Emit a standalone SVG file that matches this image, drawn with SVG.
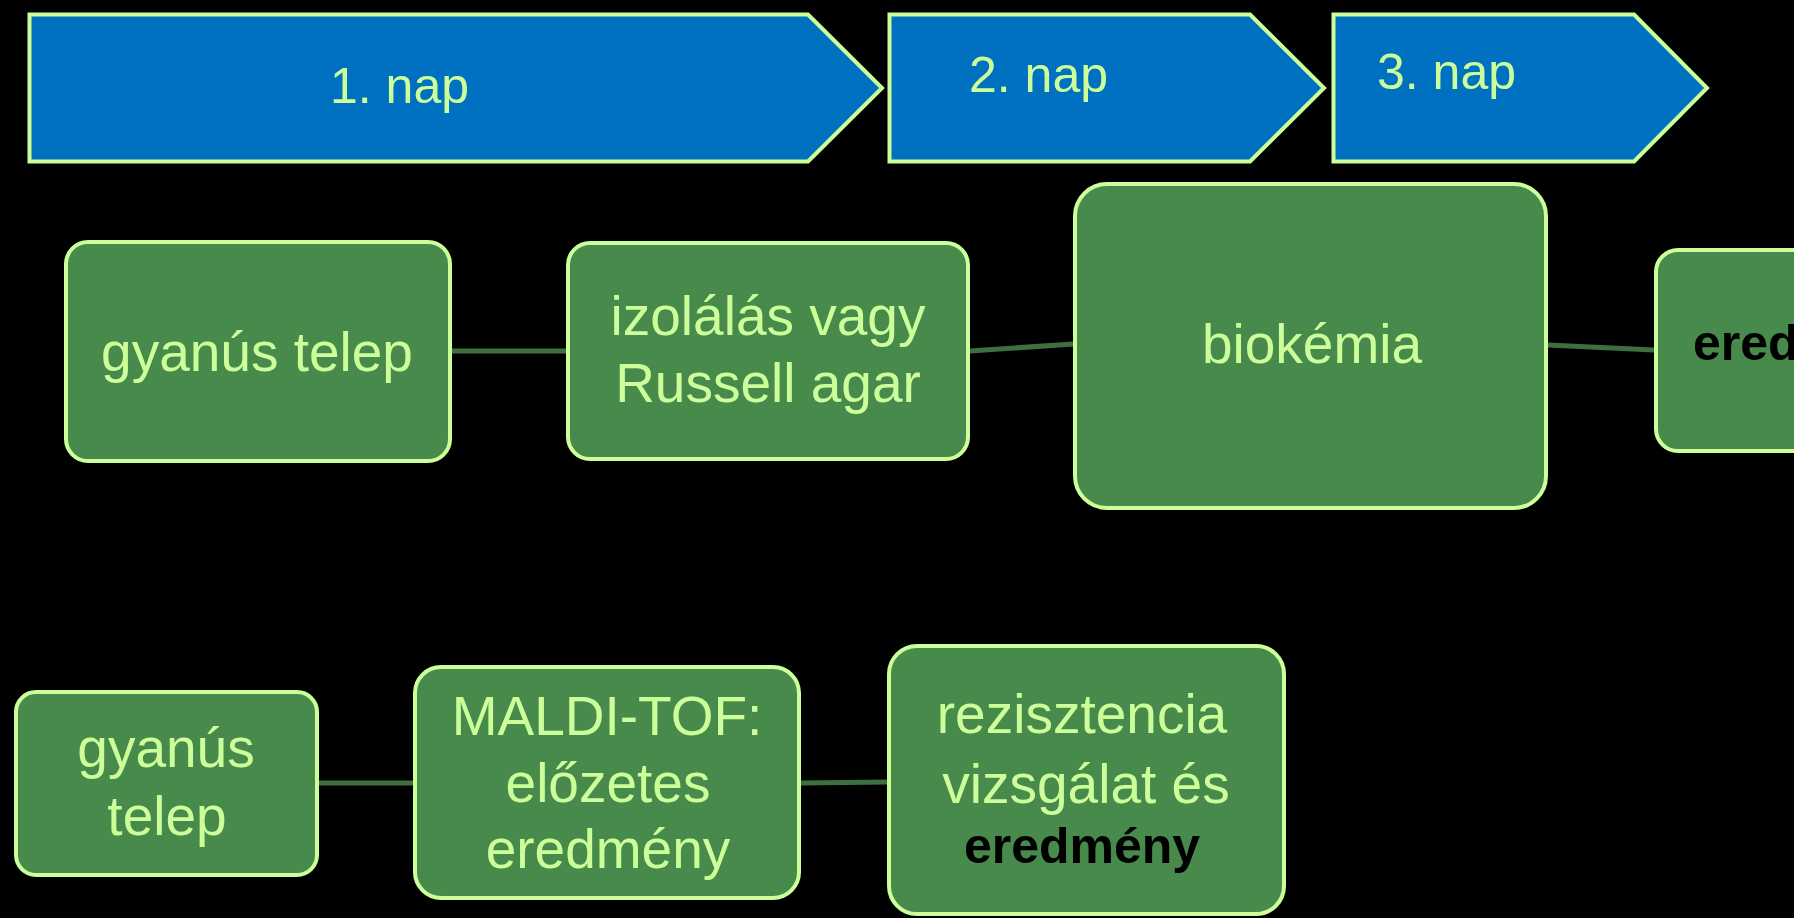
<svg xmlns="http://www.w3.org/2000/svg" width="1794" height="918" viewBox="0 0 1794 918">
<style>
.chev{fill:#0070C0;stroke:#CCFF99;stroke-width:4;stroke-linejoin:miter}
.box{fill:#478A4B;stroke:#CCFF99;stroke-width:4}
.t{font-family:"Liberation Sans",Arial,sans-serif;font-size:55px;fill:#CCFF99}
.tc{font-family:"Liberation Sans",Arial,sans-serif;font-size:50px;fill:#CCFF99}
.tb{font-family:"Liberation Sans",Arial,sans-serif;font-size:50px;font-weight:bold;fill:#000000}
.con{stroke:#3E703F;stroke-width:5;fill:none}
</style>
<rect x="0" y="0" width="1794" height="918" fill="#000000"/>
<g id="connectors">
<line class="con" x1="452" y1="351" x2="566" y2="351"/>
<line class="con" x1="970" y1="351" x2="1073" y2="344"/>
<line class="con" x1="1548" y1="345" x2="1654" y2="350"/>
<line class="con" x1="319" y1="783" x2="413" y2="783"/>
<line class="con" x1="801" y1="783" x2="887" y2="782"/>
</g>
<g id="day1">
<path class="chev" d="M29.5,14.5 H808 L882,88 L808,161.5 H29.5 Z"/>
<text class="tc" x="330" y="103">1. nap</text>
</g>
<g id="day2">
<path class="chev" d="M889.5,14.5 H1250 L1324,88 L1250,161.5 H889.5 Z"/>
<text class="tc" x="969" y="92">2. nap</text>
</g>
<g id="day3">
<path class="chev" d="M1333.5,14.5 H1634 L1707,88 L1634,161.5 H1333.5 Z"/>
<text class="tc" x="1377" y="89">3. nap</text>
</g>
<g id="top-gyanus">
<rect class="box" x="66" y="242" width="384" height="219" rx="22"/>
<text class="t" x="257" y="371" text-anchor="middle">gyanús telep</text>
</g>
<g id="top-izolalas">
<rect class="box" x="568" y="243" width="400" height="216" rx="22"/>
<text class="t" x="768" y="335" text-anchor="middle">izolálás vagy</text>
<text class="t" x="768" y="402" text-anchor="middle">Russell agar</text>
</g>
<g id="top-biokemia">
<rect class="box" x="1075" y="184" width="471" height="324" rx="32"/>
<text class="t" x="1312" y="363" text-anchor="middle">biokémia</text>
</g>
<g id="top-eredmeny">
<rect class="box" x="1656" y="250" width="200" height="201" rx="22"/>
<text class="tb" x="1693" y="360" font-size="54">eredmény</text>
</g>
<g id="bottom-gyanus">
<rect class="box" x="16" y="692" width="301" height="183" rx="20"/>
<text class="t" x="166" y="767" text-anchor="middle">gyanús</text>
<text class="t" x="167" y="835" text-anchor="middle">telep</text>
</g>
<g id="bottom-maldi">
<rect class="box" x="415" y="667" width="384" height="231" rx="26"/>
<text class="t" x="607" y="735" text-anchor="middle">MALDI-TOF:</text>
<text class="t" x="608" y="802" text-anchor="middle">előzetes</text>
<text class="t" x="608" y="868" text-anchor="middle">eredmény</text>
</g>
<g id="bottom-rezisztencia">
<rect class="box" x="889" y="646" width="395" height="268" rx="28"/>
<text class="t" x="1082" y="733" text-anchor="middle">rezisztencia</text>
<text class="t" x="1086" y="803" text-anchor="middle">vizsgálat és</text>
<text class="tb" x="1082" y="863" text-anchor="middle">eredmény</text>
</g>
</svg>
